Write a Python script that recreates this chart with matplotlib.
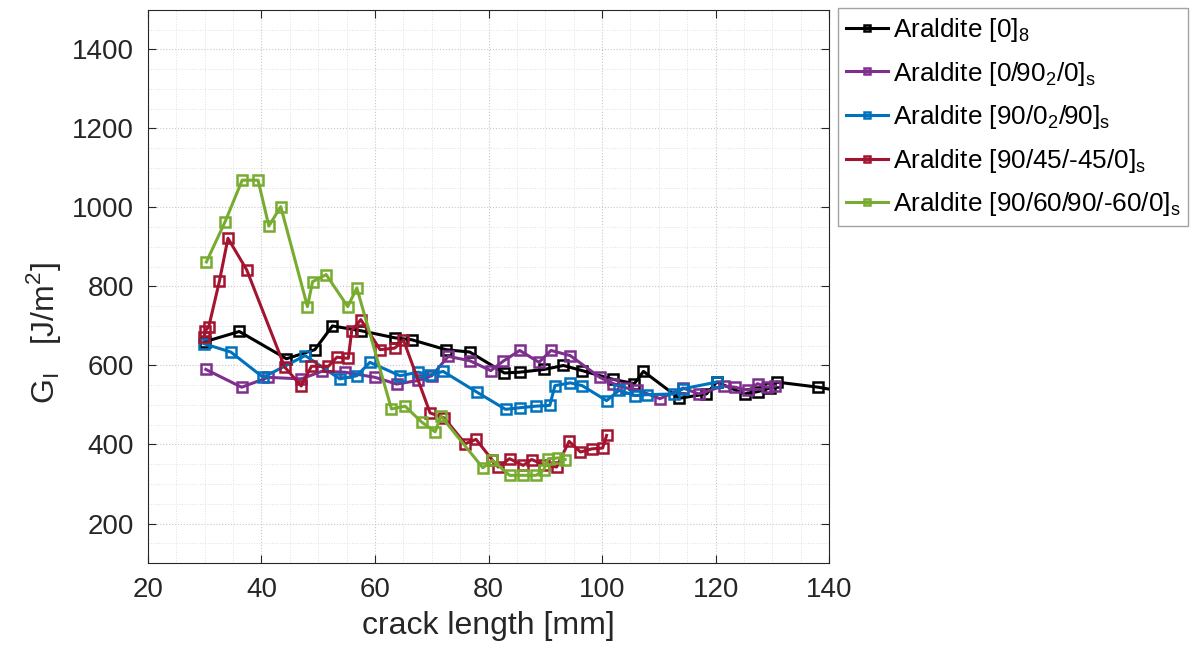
import numpy as np
import matplotlib
matplotlib.use("Agg")
import matplotlib.pyplot as plt
from matplotlib.ticker import MultipleLocator

plt.rcParams['font.family'] = ['Liberation Sans', 'DejaVu Sans']
plt.rcParams['mathtext.fontset'] = 'custom'
plt.rcParams['mathtext.rm'] = 'Liberation Sans'

## data
x_0_8 = [30.0, 36.1, 44.4, 49.4, 52.5, 57.5, 63.5, 66.5, 72.5, 76.7, 82.8, 85.5, 89.8, 93.2,
         96.5, 101.9, 105.7, 107.3, 113.6, 118.4, 120.2, 125.1, 127.5, 129.6, 130.8, 138.1, 146.0]
g_0_8 = [660, 686, 617, 640, 700, 688, 670, 665, 640, 634, 581, 583, 590, 600,
         587, 565, 554, 585, 517, 528, 558, 528, 534, 543, 558, 545, 525]

x_0_90 = [30.2, 36.5, 41.2, 47.0, 50.6, 54.7, 60.0, 63.8, 67.6, 70.0, 72.9, 76.7, 80.4, 82.6,
          85.5, 88.9, 91.0, 94.4, 99.6, 102.0, 104.3, 106.1, 110.2, 114.3, 117.0, 121.4, 123.4,
          125.8, 127.4, 129.0, 130.5]
g_0_90 = [590, 545, 570, 566, 585, 583, 570, 553, 562, 574, 623, 612, 587, 611,
          638, 608, 638, 625, 570, 554, 543, 539, 516, 543, 528, 548, 545,
          537, 554, 545, 548]

x_90_0 = [29.9, 34.6, 40.3, 47.7, 53.8, 56.8, 59.1, 64.4, 67.6, 69.7, 72.0, 77.9, 83.0, 85.5,
          88.3, 90.8, 91.7, 94.4, 96.5, 100.8, 103.0, 105.8, 107.9, 112.6, 114.3, 120.2]
g_90_0 = [655, 634, 570, 625, 566, 574, 608, 574, 583, 576, 585, 533, 489, 493,
          497, 499, 549, 556, 549, 511, 537, 524, 526, 528, 541, 558]

x_90_45 = [29.9, 30.1, 30.7, 32.6, 34.1, 37.4, 44.1, 47.0, 48.8, 51.8, 53.3, 55.3, 55.9, 57.5,
           60.9, 63.5, 65.0, 69.7, 72.2, 75.9, 77.8, 80.6, 81.7, 83.7, 86.1, 87.6, 89.7, 92.0,
           94.2, 96.2, 98.2, 100.1, 100.8]
g_90_45 = [672, 688, 697, 814, 922, 842, 596, 548, 598, 598, 621, 618, 688, 716,
           640, 644, 665, 480, 467, 402, 413, 362, 343, 364, 347, 362, 349, 343,
           408, 381, 389, 391, 423]

x_90_60 = [30.3, 33.6, 36.6, 39.4, 41.3, 43.4, 48.1, 49.0, 51.4, 55.2, 56.8, 62.9, 65.3, 68.2,
           70.6, 71.6, 79.0, 80.7, 83.7, 86.1, 88.4, 89.7, 90.5, 92.3, 93.5]
g_90_60 = [862, 964, 1069, 1069, 953, 1002, 749, 812, 830, 749, 796, 490, 497, 457,
           432, 472, 341, 360, 322, 322, 322, 335, 364, 366, 362]

series = [
    (x_0_8, g_0_8, '#000000', r'Araldite [0]$_\mathregular{8}$'),
    (x_0_90, g_0_90, '#7E2F8E', r'Araldite [0/90$_\mathregular{2}$/0]$_\mathregular{s}$'),
    (x_90_0, g_90_0, '#0072BD', r'Araldite [90/0$_\mathregular{2}$/90]$_\mathregular{s}$'),
    (x_90_45, g_90_45, '#A2142F', r'Araldite [90/45/-45/0]$_\mathregular{s}$'),
    (x_90_60, g_90_60, '#77AC30', r'Araldite [90/60/90/-60/0]$_\mathregular{s}$'),
]

fig = plt.figure(figsize=(11.95, 6.5), dpi=100)
ax = fig.add_axes([0.1238, 0.1338, 0.570, 0.851])

for xs, gs, col, lab in series:
    ax.plot(xs, gs, color=col, lw=2.2, marker='s', ms=6.5, mfc='none', mew=1.8, label=lab)

ax.set_xlim(20, 140)
ax.set_ylim(100, 1500)
ax.set_xticks([20, 40, 60, 80, 100, 120, 140])
ax.set_yticks([200, 400, 600, 800, 1000, 1200, 1400])
ax.xaxis.set_minor_locator(MultipleLocator(5))
ax.yaxis.set_minor_locator(MultipleLocator(50))
ax.grid(True, which='major', ls=':', color='#c8c8c8', lw=0.8)
ax.grid(True, which='minor', ls=':', color='#e0e0e0', lw=0.7)
ax.set_axisbelow(True)
ax.tick_params(which='both', direction='in', top=True, right=True, colors='#262626',
               labelsize=20)
ax.tick_params(which='major', length=6)
ax.tick_params(axis='x', which='major', pad=10)
ax.tick_params(axis='y', which='major', pad=10)
ax.tick_params(which='minor', length=0)
for s in ax.spines.values():
    s.set_color('#262626')
    s.set_linewidth(0.8)

ax.set_xlabel('crack length [mm]', fontsize=23, color='#262626', labelpad=6)
ax.set_ylabel(r'G$_\mathregular{I}$   [J/m$^\mathregular{2}$]', fontsize=23, color='#262626')
ax.yaxis.set_label_coords(-0.125, 0.415)

leg = ax.legend(loc='upper left', bbox_to_anchor=(838 / 1195, 1 - 8 / 650),
                bbox_transform=fig.transFigure, fontsize=18.8, handlelength=1.6,
                handletextpad=0.2, borderaxespad=0, markerscale=0.6,
                fancybox=False, labelspacing=0.6, borderpad=0.3)
leg.get_frame().set_edgecolor('#8c8c8c')
leg.get_frame().set_linewidth(1)

fig.savefig('out.png', dpi=100)
